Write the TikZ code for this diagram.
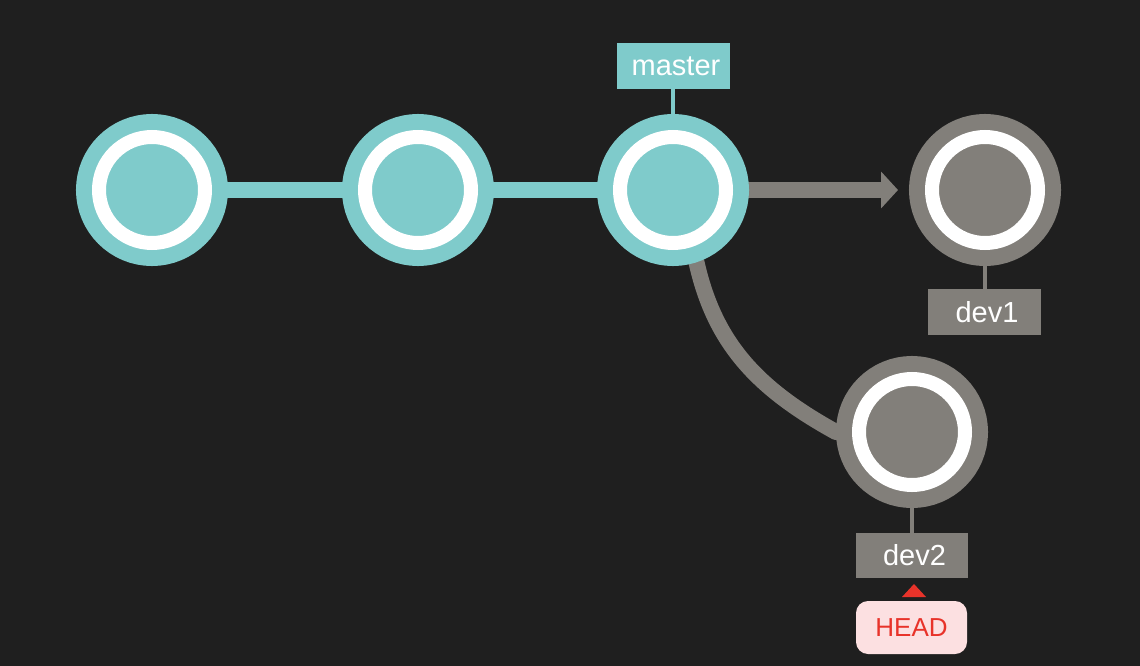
\documentclass[tikz,border=0pt]{standalone}
\usepackage{fontspec}
\setmainfont{Liberation Sans}
\usetikzlibrary{arrows.meta}
\pgfdeclarelayer{bglayer}
\pgfdeclarelayer{edges}
\pgfsetlayers{bglayer,edges,main}
\definecolor{bgc}{HTML}{1F1F1F}
\definecolor{teal}{HTML}{7FCBCB}
\definecolor{stone}{HTML}{827F7A}
\definecolor{headfill}{HTML}{FCE0E1}
\definecolor{headred}{HTML}{E8332A}
\tikzset{
  commit/.style={circle, inner sep=0pt, minimum size=106pt, fill=#1, draw=#1,
    double=white, double distance=14pt, line width=16pt, outer sep=23pt},
  label box/.style={rectangle, inner sep=0pt, fill=#1, text=white,
    font=\fontsize{29}{29}\selectfont},
  main line/.style={draw=teal, line width=16pt, line cap=round},
  branch line/.style={draw=stone, line width=16pt},
  tag line/.style={line width=4pt},
}
\begin{document}
\begin{tikzpicture}[x=1pt, y=-1pt]
\begin{pgfonlayer}{bglayer}
  \fill[bgc] (0,0) rectangle (1140,666);
\end{pgfonlayer}
\useasboundingbox (0,0) rectangle (1140,666);

% commits
\node[commit=teal] (c1) at (152,190) {};
\node[commit=teal] (c2) at (418,190) {};
\node[commit=teal] (c3) at (673,190) {};
\node[commit=stone] (d1) at (985,190) {};
\node[commit=stone] (d2) at (912,432) {};

% labels
\node[label box=teal, minimum width=113pt, minimum height=46pt] (mst) at (673.5,66) {\hspace*{5pt}master};
\node[label box=stone, minimum width=113pt, minimum height=46pt] (dv1) at (984.5,312) {\hspace*{5pt}dev1};
\node[label box=stone, minimum width=112pt, minimum height=45pt] (dv2) at (912,555.5) {\hspace*{5pt}dev2};
\node[rectangle, rounded corners=12pt, fill=headfill, text=headred, inner sep=0pt,
  minimum width=111pt, minimum height=53pt, font=\fontsize{26}{26}\selectfont] (hd) at (911.5,627.5) {HEAD};

\coordinate (tip) at (898,190);

% connectors
\begin{pgfonlayer}{edges}
  \draw[main line] (c1.center) -- (c2.center);
  \draw[main line] (c2.center) -- (c3.center);
  \draw[branch line, -{Triangle[length=17pt 0 0, width=36pt 0 0]}] (c3.center) -- (tip);
  \draw[branch line, line cap=round] (c3.-72) .. controls +(18,80) and +(-80,-44) .. (d2.180);
  \draw[tag line, teal] (c3.north) -- (c3.north |- mst.south);
  \draw[tag line, stone] (d1.south) -- (d1.south |- dv1.north);
  \draw[tag line, stone] (d2.south) -- (d2.south |- dv2.north);
\end{pgfonlayer}

% HEAD pointer
\fill[headred] (902,597) -- (914,584) -- (926,597) -- cycle;
\end{tikzpicture}
\end{document}
